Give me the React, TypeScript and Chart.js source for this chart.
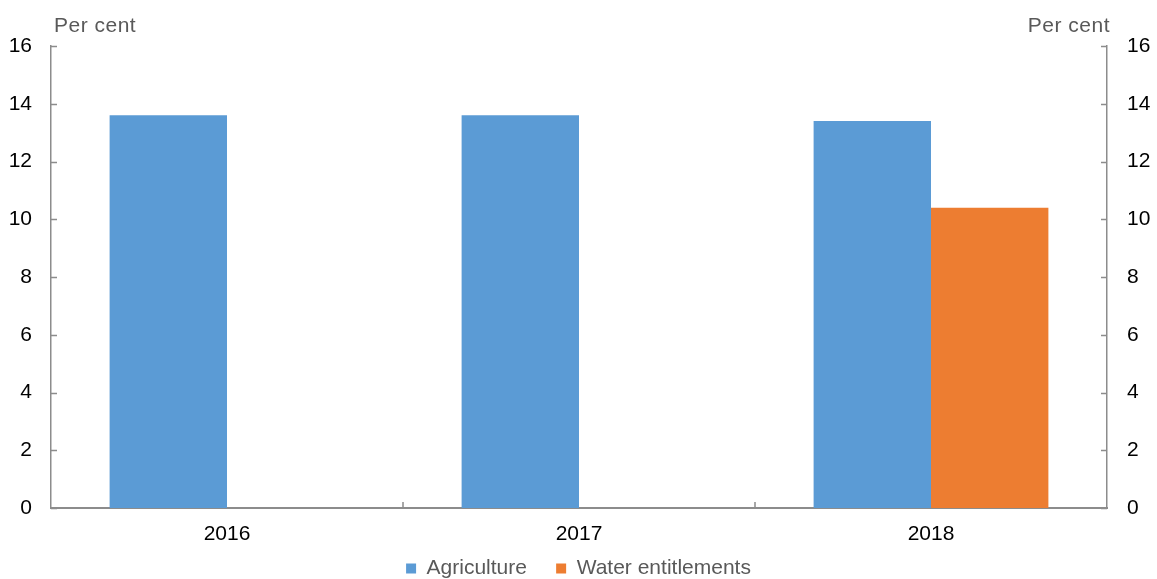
import React, { useEffect, useRef } from "react";
import { Chart, registerables } from "chart.js";

Chart.register(...registerables);

const categories = ["2016", "2017", "2018"];
const agriculture = [13.6, 13.6, 13.4];
const waterEntitlements: (number | null)[] = [null, null, 10.4];
const yTicks = [0, 2, 4, 6, 8, 10, 12, 14, 16];
const unitLabel = "Per cent";

const AXIS_COLOR = "#8c8c8c";
const FONT = "Arial, 'Liberation Sans', sans-serif";
const FS = 21;

const decorPlugin = {
  id: "decor",
  afterDraw(chart: any) {
    const ctx = chart.ctx;
    const area = chart.chartArea;
    const yl = chart.scales.y;
    const yr = chart.scales.y2;
    const x = chart.scales.x;
    ctx.save();
    ctx.strokeStyle = AXIS_COLOR;
    ctx.lineWidth = 1.5;
    ctx.beginPath();
    yTicks.forEach((v) => {
      const py = Math.round(yl.getPixelForValue(v)) + 0.5;
      ctx.moveTo(area.left, py);
      ctx.lineTo(area.left + 6, py);
      const pr = Math.round(yr.getPixelForValue(v)) + 0.5;
      ctx.moveTo(area.right, pr);
      ctx.lineTo(area.right - 6, pr);
    });
    for (let i = 1; i < categories.length; i++) {
      const px = (x.getPixelForValue(i - 1) + x.getPixelForValue(i)) / 2;
      ctx.moveTo(px, area.bottom);
      ctx.lineTo(px, area.bottom - 6);
    }
    ctx.stroke();
    ctx.fillStyle = "#595959";
    ctx.font = `${FS}px ${FONT}`;
    ctx.textBaseline = "alphabetic";
    try { (ctx as any).letterSpacing = "0.5px"; } catch (e) {}
    ctx.textAlign = "left";
    ctx.fillText(unitLabel, area.left + 3, area.top - 14);
    ctx.textAlign = "right";
    ctx.fillText(unitLabel, area.right + 3, area.top - 14);
    ctx.restore();
  },
};

export default function App() {
  const ref = useRef<HTMLCanvasElement | null>(null);
  useEffect(() => {
    document.body.style.margin = "0";
    const chart = new Chart(ref.current!, {
      type: "bar",
      data: {
        labels: categories,
        datasets: [
          {
            label: "Agriculture",
            data: agriculture,
            backgroundColor: "#5B9BD5",
            categoryPercentage: 0.667,
            barPercentage: 1,
            yAxisID: "y",
          },
          {
            label: "Water entitlements",
            data: waterEntitlements,
            backgroundColor: "#ED7D31",
            categoryPercentage: 0.667,
            barPercentage: 1,
            yAxisID: "y",
          },
        ],
      },
      options: {
        animation: false,
        responsive: false,
        layout: { padding: { top: 46, left: 0, right: 0, bottom: -10 } },
        plugins: {
          tooltip: { enabled: false },
          legend: {
            position: "bottom",
            labels: {
              color: "#595959",
              font: { family: FONT, size: FS },
              boxWidth: 10,
              boxHeight: 10,
              padding: 0,
              generateLabels(chart: any) {
                const items = Chart.defaults.plugins.legend.labels.generateLabels(chart);
                items.forEach((it: any, i: number) => {
                  if (i < items.length - 1) it.text = it.text + "     ";
                });
                return items;
              },
            },
          },
        },
        scales: {
          x: {
            grid: { display: false, offset: true },
            border: { display: true, color: AXIS_COLOR, width: 2 },
            ticks: { color: "#000", font: { family: FONT, size: FS }, padding: 6 },
            afterFit(scale: any) {
              scale.height = 50;
            },
          },
          y: {
            position: "left",
            min: 0,
            max: 16,
            grid: { display: false },
            border: { display: true, color: AXIS_COLOR, width: 1.5 },
            ticks: {
              stepSize: 2,
              color: "#000",
              font: { family: FONT, size: FS },
              padding: 11,
            },
            afterFit(scale: any) {
              scale.width = 51;
            },
          },
          y2: {
            position: "right",
            min: 0,
            max: 16,
            grid: { display: false },
            border: { display: true, color: AXIS_COLOR, width: 1.5 },
            ticks: {
              stepSize: 2,
              color: "#000",
              font: { family: FONT, size: FS },
              padding: 12,
            },
            afterFit(scale: any) {
              scale.width = 50;
            },
          },
        },
      },
      plugins: [decorPlugin],
    });
    return () => chart.destroy();
  }, []);
  return <canvas ref={ref} width={1157} height={579} style={{ display: "block" }} />;
}
